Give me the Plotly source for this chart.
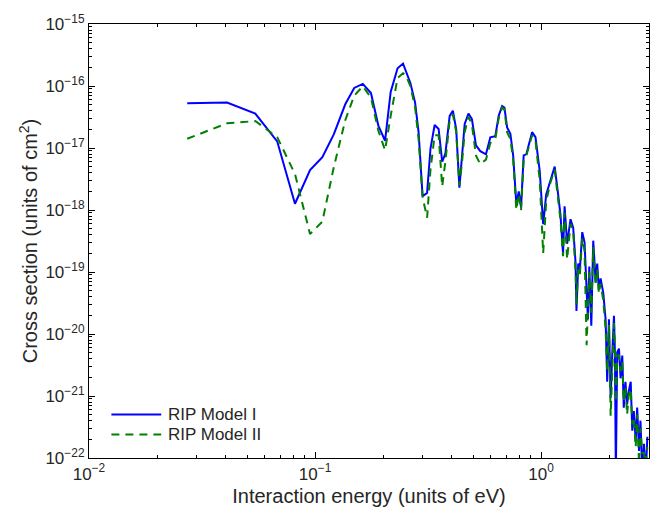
import numpy as np
import plotly.graph_objects as go

# Interaction energy grid (eV), shared by both models
energy = [
    0.0272, 0.0408, 0.0544, 0.068, 0.0815, 0.095, 0.1077, 0.121, 0.136, 0.149,
    0.1626, 0.1767, 0.1905, 0.204, 0.216, 0.2317, 0.245, 0.252, 0.264, 0.277,
    0.287, 0.299, 0.313, 0.324, 0.338, 0.352, 0.365, 0.377, 0.394, 0.407,
    0.421, 0.435, 0.447, 0.459, 0.477, 0.494, 0.515, 0.538, 0.57, 0.596,
    0.627, 0.649, 0.672, 0.688, 0.707, 0.731, 0.752, 0.777, 0.796, 0.815,
    0.837, 0.86, 0.912, 0.944, 0.986, 1.021, 1.053, 1.10, 1.148, 1.189,
    1.217, 1.25, 1.27, 1.303, 1.349, 1.386, 1.42, 1.433, 1.459, 1.483,
    1.52, 1.556, 1.589, 1.61, 1.633, 1.667, 1.70, 1.74, 1.77, 1.80,
    1.832, 1.883, 1.928, 1.96, 1.995, 2.03, 2.065, 2.10, 2.12, 2.14,
    2.17, 2.21, 2.245, 2.285, 2.32, 2.36, 2.40, 2.44, 2.49, 2.53,
    2.57, 2.62, 2.66, 2.71, 2.75, 2.80, 2.85, 2.90, 2.95,
]

# Cross section (cm^2), RIP Model I
sigma_model1 = [
    5.25e-17, 5.4e-17, 3.6e-17, 1.28e-17, 1.26e-18, 4.4e-18, 7.1e-18, 1.66e-17, 5.07e-17, 9.3e-17,
    1.08e-16, 7.7e-17, 2.3e-17, 1.31e-17, 8.0e-17, 1.93e-16, 2.3e-16, 1.75e-16, 1.12e-16, 5.4e-17,
    1.8e-17, 1.67e-18, 1.89e-18, 9.8e-18, 2.35e-17, 2.03e-17, 6.0e-18, 8.1e-18, 3.3e-17, 4.0e-17,
    2.0e-17, 2.3e-18, 8.7e-18, 2.45e-17, 3.6e-17, 2.93e-17, 1.1e-17, 8.9e-18, 7.9e-18, 1.49e-17,
    1.55e-17, 3.3e-17, 4.76e-17, 4.5e-17, 2.15e-17, 1.7e-17, 7.6e-18, 1.23e-18, 2.0e-18, 1.1e-18,
    7.6e-18, 7.9e-18, 1.8e-17, 1.5e-17, 4.2e-18, 5.9e-19, 1.78e-18, 3.1e-18, 5.0e-18, 1.78e-18,
    8.5e-19, 2.0e-19, 1.15e-18, 2.85e-19, 7.1e-19, 5.2e-19, 1.4e-19, 2.35e-20, 1.37e-19, 1.08e-19,
    4.4e-19, 3.0e-19, 5.9e-20, 1.73e-20, 1.22e-19, 1.36e-20, 3.2e-19, 7.5e-20, 1.37e-19, 5.2e-20,
    7.9e-20, 4.6e-20, 1.73e-20, 1.7e-21, 1.73e-20, 9.3e-22, 5.1e-21, 1.96e-20, 5.1e-21, 5e-23,
    5.1e-21, 5.8e-21, 1.93e-21, 4.5e-21, 6.5e-22, 1.7e-21, 7.3e-22, 1.19e-21, 1.7e-21, 2.75e-22,
    5.7e-22, 1.9e-22, 6.5e-22, 1.3e-22, 4.0e-22, 6e-23, 1.7e-22, 5e-23, 2.2e-22,
]

# Cross section (cm^2), RIP Model II
sigma_model2 = [
    1.41e-17, 2.5e-17, 2.72e-17, 1.5e-17, 3.8e-18, 4.1e-19, 6.5e-19, 4.9e-18, 2.8e-17, 7.0e-17,
    9.9e-17, 6.5e-17, 1.9e-17, 9.2e-18, 3.3e-17, 1.35e-16, 1.6e-16, 1.5e-16, 1.0e-16, 4.5e-17,
    1.4e-17, 1.6e-18, 7.5e-19, 4.5e-18, 1.6e-17, 1.6e-17, 2.4e-18, 6.0e-18, 2.8e-17, 3.5e-17,
    1.8e-17, 2.5e-18, 6.0e-18, 1.8e-17, 3.2e-17, 2.4e-17, 7.5e-18, 5.5e-18, 6.5e-18, 1.2e-17,
    1.4e-17, 3.0e-17, 4.5e-17, 4.2e-17, 1.8e-17, 1.4e-17, 6.5e-18, 1.0e-18, 1.8e-18, 1.0e-18,
    6.5e-18, 7.5e-18, 1.6e-17, 1.3e-17, 3.0e-18, 2.0e-19, 1.4e-18, 2.8e-18, 4.5e-18, 1.5e-18,
    7.0e-19, 1.8e-19, 9.0e-19, 1.6e-19, 6.0e-19, 4.5e-19, 1.0e-19, 3.0e-20, 1.1e-19, 9.0e-20,
    3.5e-19, 2.2e-19, 6.6e-21, 2.5e-20, 1.0e-19, 2.2e-20, 2.5e-19, 6.0e-20, 1.1e-19, 4.5e-20,
    6.5e-20, 3.5e-20, 1.2e-20, 2.5e-21, 1.4e-20, 4.8e-22, 4.0e-21, 1.5e-20, 6.0e-21, 8.0e-22,
    4.5e-21, 4.5e-21, 2.5e-21, 3.5e-21, 8.0e-22, 1.4e-21, 5.0e-22, 1.0e-21, 1.3e-21, 3.5e-22,
    4.5e-22, 1.5e-22, 5.0e-22, 8e-23, 3.0e-22, 1.2e-22, 1.2e-22, 8e-23, 1.5e-22,
]

series_names = ["RIP Model I", "RIP Model II"]
series_colors = ["#0000ff", "#008000"]

x_decades = [-2, -1, 0]
y_decades = [-22, -21, -20, -19, -18, -17, -16, -15]
x_range = [1e-2, 3.0]
y_range = [1e-22, 1e-15]


def power_labels(exps):
    return ["10<sup>%s</sup>" % (str(e).replace("-", "\u2212")) for e in exps]


# minor tick positions for the log axes: 2..9 within every decade
def minor_ticks(lo_exp, hi_exp):
    vals = []
    for k in range(lo_exp, hi_exp):
        for m in range(2, 10):
            vals.append(m * 10.0 ** k)
    return vals


fig = go.Figure()
fig.add_trace(go.Scatter(
    x=energy, y=sigma_model1, mode="lines", name=series_names[0],
    line=dict(color=series_colors[0], width=2), showlegend=False,
))
fig.add_trace(go.Scatter(
    x=energy, y=sigma_model2, mode="lines", name=series_names[1],
    line=dict(color=series_colors[1], width=2, dash="8px,6px"), showlegend=False,
))

font_family = "Liberation Sans, Arial, Helvetica, sans-serif"
text_color = "#262626"
axis_common = dict(
    type="log",
    showline=True, linecolor="black", linewidth=1.2,
    mirror="ticks", ticks="inside", ticklen=6, tickcolor="black",
    showgrid=False, zeroline=False,
    tickfont=dict(family=font_family, size=17, color=text_color),
)

fig.update_xaxes(
    **axis_common,
    range=[np.log10(x_range[0]), np.log10(x_range[1])],
    tickvals=[10.0 ** e for e in x_decades],
    ticktext=power_labels(x_decades),
    minor=dict(ticks="inside", ticklen=3, tickcolor="black",
               tickvals=minor_ticks(-2, 1), showgrid=False),
    title=dict(text="Interaction energy (units of eV)",
               font=dict(family=font_family, size=20, color=text_color),
               standoff=6),
)
fig.update_yaxes(
    **axis_common,
    range=[np.log10(y_range[0]), np.log10(y_range[1])],
    tickvals=[10.0 ** e for e in y_decades],
    ticktext=power_labels(y_decades),
    minor=dict(ticks="inside", ticklen=3, tickcolor="black",
               tickvals=minor_ticks(-22, -15), showgrid=False),
    title=dict(text="Cross section (units of cm<sup>2</sup>)",
               font=dict(family=font_family, size=20, color=text_color),
               standoff=2),
)

# legend drawn in the lower-left corner of the axes, MATLAB style
legend_rows_y = [0.100, 0.054]
legend_dash = ["solid", "8px,6px"]
for name, color, dash, ly in zip(series_names, series_colors, legend_dash, legend_rows_y):
    fig.add_shape(
        type="line", xref="paper", yref="paper",
        x0=0.040, x1=0.129, y0=ly, y1=ly,
        line=dict(color=color, width=2, dash=dash),
    )
    fig.add_annotation(
        xref="paper", yref="paper", x=0.137, y=ly,
        xanchor="left", yanchor="middle", showarrow=False,
        text=name, font=dict(family=font_family, size=17, color=text_color),
    )

fig.update_layout(
    width=663, height=516,
    margin=dict(l=89, r=14, t=17, b=58),
    paper_bgcolor="white", plot_bgcolor="white",
    font=dict(family=font_family, color=text_color),
    showlegend=False,
)

fig.write_html("out.html")
